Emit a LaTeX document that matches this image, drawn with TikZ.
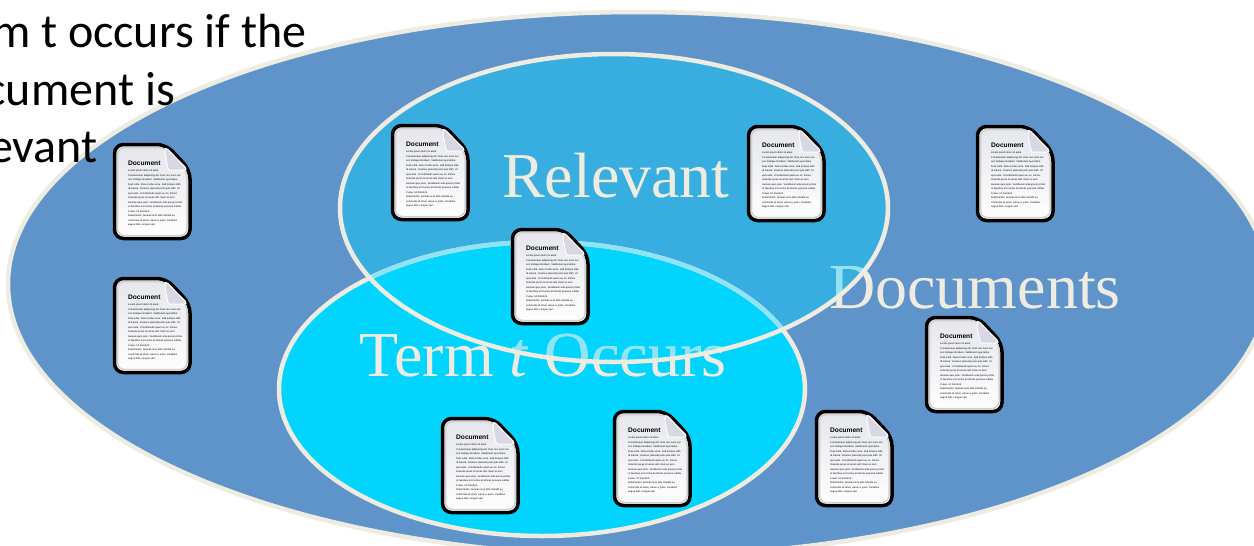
\documentclass[tikz,border=0pt]{standalone}
\usepackage{fontspec}
\setmainfont{Liberation Serif}
\newfontfamily\calibrifont{Carlito}
\newfontfamily\iconfont{Liberation Sans}
\usetikzlibrary{positioning}
\definecolor{eggshell}{HTML}{EEECE1}
\definecolor{steel}{HTML}{5F94CA}
\definecolor{relblue}{HTML}{38AEE0}
\definecolor{termcyan}{HTML}{00D4FF}
\definecolor{fadeline}{HTML}{8FE3F3}
\definecolor{foldgray}{HTML}{D8D8E4}
\definecolor{pagetop}{HTML}{E4E6EC}

\begin{document}
\begin{tikzpicture}[x=1pt, y=-1pt,
	setshape/.style={draw=eggshell, line width=4.5pt},
	setlabel/.style={text=eggshell, font=\fontsize{64}{64}\selectfont, inner sep=0pt},
	fadelabel/.style={setlabel, text=fadeline},
	notetext/.style={font=\calibrifont\fontsize{48}{57.5}\selectfont, align=left, inner sep=0pt, text=black},
	docpage/.style={draw=black, line width=3.5pt, rounded corners=9pt, top color=pagetop, bottom color=white},
	docedge/.style={draw=black!18, line width=1.5pt, rounded corners=7pt},
	docfold/.style={draw=white, line width=1pt, fill=foldgray, rounded corners=4pt},
	doctitle/.style={font=\iconfont\bfseries\fontsize{6.6}{7}\selectfont, inner sep=0pt, anchor=north west},
	docbody/.style={font=\iconfont\fontsize{2.5}{4.5}\selectfont, align=left, inner sep=0pt, anchor=north west},
	pics/docicon/.style={code={
		\path[docpage] (1.5,1.5) -- (53,1.5) -- (77,27) -- (77,95.5) -- (1.5,95.5) -- cycle;
		\path[docedge] (4.5,4.5) -- (52,4.5) -- (74,28) -- (74,92.5) -- (4.5,92.5) -- cycle;
		\path[docfold] (52,3.5) -- (75,27) -- (60,27) to[out=180,in=90] (52,15) -- cycle;
		\node[doctitle] (-title) at (15,18) {Document};
		\node[docbody] (-body) at (15,26.5) {Lorem ipsum dolor sit amet.\\
			Consectetuer adipiscing elit. Duis nec nunc nec\\
			orci tristique tincidunt. Vestibulum quis tellus.\\
			Duis nulla. Donec tellus urna. Sed tempus nibh\\
			id massa. Vivamus placerat justo quis nibh. Ut\\
			quis ante. Ut sollicitudin quam eu mi. Donec\\
			molestie purus sit amet velit. Nam ac sem.\\
			Aenean quis justo. Vestibulum ante ipsum primis\\
			in faucibus orci luctus et ultrices posuere cubilia\\
			Curae. Ut tincidunt.\\
			Nulla facilisi. Aenean eros felis, blandit eu,\\
			commodo sit amet, varius a, justo. Curabitur\\
			augue felis, congue sed.};
	}}]
	\useasboundingbox (0,0) rectangle (1254,546);
	% draw the three sets
	\fill[steel] (638,284) ellipse [x radius=630, y radius=272];
	\draw[setshape] (638,284) ellipse [x radius=630, y radius=272];
	\fill[relblue] (614,208) ellipse [x radius=274, y radius=154];
	\fill[termcyan] (542,389) ellipse [x radius=263, y radius=147];
	\draw[setshape] (542,389) ellipse [x radius=263, y radius=147];
	\node[setlabel] (termlabel) at (543,356) {Term \textit{t} Occurs};
	\node[setlabel] (doclabel) at (975,288) {Documents};
	% inside the relevant set the term outline and labels fade
	\begin{scope}
		\clip (614,208) ellipse [x radius=274, y radius=154];
		\draw[setshape, draw=fadeline] (542,389) ellipse [x radius=263, y radius=147];
		\node[fadelabel] (termfade) at (543,356) {Term \textit{t} Occurs};
		\node[fadelabel] (docfade) at (975,288) {Documents};
	\end{scope}
	\draw[setshape] (614,208) ellipse [x radius=274, y radius=154];
	\node[setlabel] (rellabel) at (616,176) {Relevant};
	% draw note, cut off by the left edge
	\node[notetext, anchor=north west] (note) at (-68,14) {Term t occurs if the\\\hspace{3pt}document is\\\hspace{6pt}relevant};
	% draw document icons
	\foreach \px/\py [count=\step from 1] in {113/143, 113/277, 391/124, 747/125, 976/125, 511/228, 925/316, 441/417, 613/410, 815/410}
		\pic (doc\step) at (\px,\py) {docicon};
\end{tikzpicture}
\end{document}
